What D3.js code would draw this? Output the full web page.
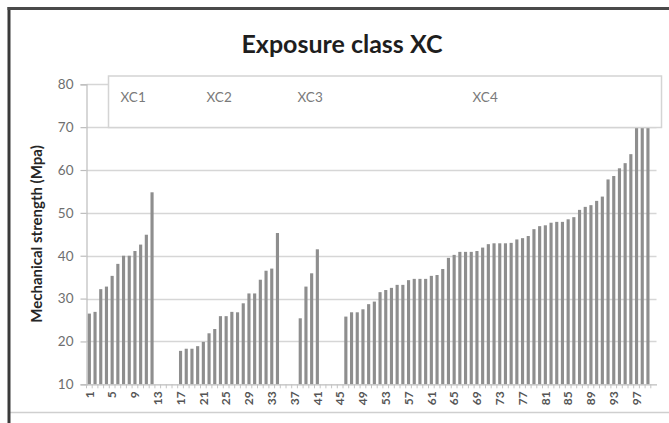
<!DOCTYPE html>
<html>
<head>
<meta charset="utf-8">
<script src="https://cdn.jsdelivr.net/npm/d3@7"></script>
<style>
  html, body { margin: 0; padding: 0; background: #fff; }
  svg { display: block; }
  text { font-family: Lato, "Open Sans", sans-serif; }
</style>
</head>
<body>
<svg id="chart" width="669" height="423"></svg>
<script>
// ---- data ----
const title = "Exposure class XC";
const yTitle = "Mechanical strength (Mpa)";
const categories = d3.range(1, 101);           // sample numbers 1..100
const tickLabels = d3.range(1, 101, 4);        // 1, 5, 9, ... 97
const yTicks = [10, 20, 30, 40, 50, 60, 70, 80];
const seriesNames = ["XC1", "XC2", "XC3", "XC4"];
const seriesStart = [1, 17, 38, 46];           // first sample number of each class
const xc1 = [26.5, 26.9, 32.2, 32.8, 35.3, 38.1, 40.0, 40.0, 41.1, 42.6, 44.9, 54.8];
const xc2 = [17.8, 18.3, 18.3, 18.9, 19.9, 21.9, 22.9, 25.9, 25.9, 26.9, 26.8, 28.9,
             31.2, 31.2, 34.4, 36.5, 37.0, 45.3];
const xc3 = [25.4, 32.8, 35.9, 41.5];
const xc4 = [25.8, 26.8, 26.8, 27.5, 28.7, 29.3, 31.5, 32.0, 32.5, 33.2, 33.2, 34.3,
             34.6, 34.6, 34.6, 35.3, 35.5, 36.9, 39.5, 40.2, 40.9, 40.9, 40.9, 41.1,
             41.9, 42.7, 42.9, 42.9, 42.9, 43.0, 43.8, 44.1, 44.6, 46.2, 46.9, 47.1,
             47.7, 47.9, 47.9, 48.5, 49.0, 50.7, 51.4, 51.8, 52.8, 53.8, 57.8, 58.6,
             60.4, 61.6, 63.7, 72.0, 73.0, 75.0];
const seriesValues = [xc1, xc2, xc3, xc4];

// ---- build table ----
const bars = [];
seriesValues.forEach((vals, s) => {
  vals.forEach((v, i) => bars.push({ cat: seriesStart[s] + i, value: v, series: seriesNames[s] }));
});

const svg = d3.select("#chart");
const W = 669, H = 423;

// frame like the reference screenshot
svg.append("line").attr("x1", 8).attr("x2", W).attr("y1", 412.5).attr("y2", 412.5)
  .attr("stroke", "#cfcfcf").attr("stroke-width", 1.5);
svg.append("line").attr("x1", 9).attr("x2", 9).attr("y1", 7).attr("y2", H)
  .attr("stroke", "#3a3a3a").attr("stroke-width", 3);
svg.append("line").attr("x1", 7.5).attr("x2", W).attr("y1", 8.5).attr("y2", 8.5)
  .attr("stroke", "#4a4a4a").attr("stroke-width", 3);

const plot = { left: 86.5, right: 656.5, top: 84.3, bottom: 384.3 };

const x = d3.scaleBand().domain(categories).range([plot.left, plot.right]).paddingInner(0.45).paddingOuter(0.225);
const y = d3.scaleLinear().domain([10, 80]).range([plot.bottom, plot.top]);

// gridlines
svg.append("g").selectAll("line").data(yTicks.filter(d => d > 10)).join("line")
  .attr("x1", plot.left).attr("x2", plot.right)
  .attr("y1", d => Math.round(y(d)) + 0.5).attr("y2", d => Math.round(y(d)) + 0.5)
  .attr("stroke", "#d6d6d6").attr("stroke-width", 1.3);

// y axis
const yAxis = d3.axisLeft(y).tickValues(yTicks).tickSize(6).tickPadding(7);
const gy = svg.append("g").attr("transform", `translate(${plot.left},0)`).call(yAxis);
gy.select(".domain").attr("stroke", "#bdbdbd").attr("stroke-width", 1.2);
gy.selectAll(".tick line").attr("stroke", "#bdbdbd").attr("stroke-width", 1.2);
gy.selectAll(".tick text").attr("font-size", 13.5).attr("fill", "#6e6e6e")
  .attr("font-family", "Lato, sans-serif");

// bars
svg.append("g").selectAll("rect").data(bars).join("rect")
  .attr("x", d => x(d.cat))
  .attr("width", x.bandwidth())
  .attr("y", d => y(d.value))
  .attr("height", d => y(10) - y(d.value))
  .attr("fill", "#8e8e8e");

// x axis
const xAxis = d3.axisBottom(x).tickValues(tickLabels).tickSize(0).tickPadding(7);
const gx = svg.append("g").attr("transform", `translate(0,${plot.bottom})`).call(xAxis);
gx.select(".domain").attr("stroke", "#bdbdbd").attr("stroke-width", 1.2);
gx.selectAll(".tick text")
  .attr("transform", "rotate(-90)")
  .attr("text-anchor", "end")
  .attr("dy", "0.35em")
  .attr("x", -7).attr("y", 0)
  .attr("font-size", 12).attr("font-weight", "bold").attr("fill", "#555")
  .attr("font-family", "Lato, sans-serif");
// minor tick marks at every category boundary
svg.append("g").selectAll("line").data(categories).join("line")
  .attr("x1", d => x(d) - x.step() * x.paddingInner() / 2)
  .attr("x2", d => x(d) - x.step() * x.paddingInner() / 2)
  .attr("y1", plot.bottom).attr("y2", plot.bottom + 4)
  .attr("stroke", "#c4c4c4").attr("stroke-width", 1);

// legend / class box
const box = svg.append("g");
box.append("rect").attr("x", 108.5).attr("y", 76).attr("width", 553).attr("height", 51.5)
  .attr("fill", "#fff").attr("stroke", "#d4d4d4").attr("stroke-width", 1.5);
const labelX = [120.5, 206.5, 297.5, 472.5];
box.selectAll("text").data(seriesNames).join("text")
  .attr("x", (d, i) => labelX[i]).attr("y", 102)
  .attr("font-size", 13.5).attr("fill", "#7a7a7a")
  .text(d => d);

// title
svg.append("text").attr("x", 342).attr("y", 53).attr("text-anchor", "middle")
  .attr("font-size", 25).attr("font-weight", "bold").attr("fill", "#1e1e1e")
  .text(title);

// y title
svg.append("text").attr("transform", "translate(42,234) rotate(-90)")
  .attr("text-anchor", "middle")
  .attr("font-size", 15).attr("font-weight", "bold").attr("fill", "#262626")
  .text(yTitle);
</script>
</body>
</html>
